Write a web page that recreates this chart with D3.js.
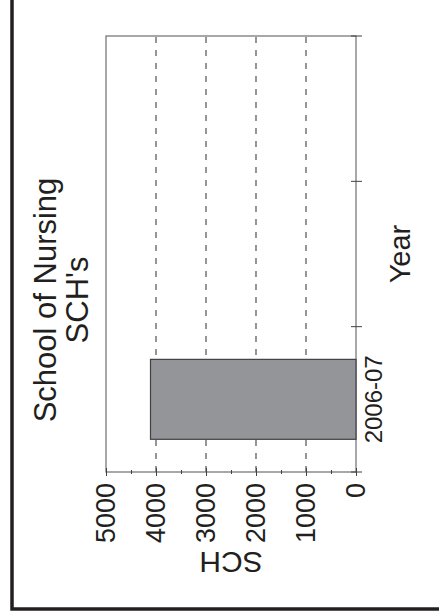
<!DOCTYPE html>
<html lang="en-US">
<head>
    <meta charset="utf-8">
    <script src="https://d3js.org/d3.v7.min.js"></script>
    <style>
        body { margin: 0; background: #fff; }
        text { font-family: "Liberation Sans", Arial, sans-serif; fill: #231f20; }
        .axis path { display: none; }
        .axis line { stroke: #414042; }
        .grid { stroke: #414042; stroke-width: 1.1; stroke-dasharray: 6, 7; }
    </style>
</head>
<body>
<div id="canvas"></div>
</body>
<script>
    // data
    var categories = ["2006-07", "2007-08", "2008-09"];
    var tickLabels = ["2006-07", "", ""];
    var sch = [4110, null, null];
    var yTicks = [0, 1000, 2000, 3000, 4000, 5000];
    var yMinor = [500, 1500, 2500, 3500, 4500];
    var gridValues = [1000, 2000, 3000, 4000];

    var W = 439, H = 616;

    var svg = d3.select("#canvas")
        .append("svg")
        .attr("width", W)
        .attr("height", H);

    // outer frame (only left and bottom edges fall inside the picture)
    svg.append("rect")
        .attr("x", 12).attr("y", -20)
        .attr("width", 480).attr("height", 629)
        .attr("fill", "none")
        .attr("stroke", "#231f20")
        .attr("stroke-width", 3.5);

    // the whole chart is drawn upright and then turned a quarter turn
    var g = svg.append("g")
        .attr("transform", "translate(0," + H + ") rotate(-90)");

    var plot = { left: 144, right: 580, top: 106, bottom: 356 };

    var x = d3.scaleBand()
        .domain(categories)
        .range([plot.left, plot.right])
        .paddingInner(0.45)
        .paddingOuter(0.225);

    var y = d3.scaleLinear()
        .domain([0, 5000])
        .range([plot.bottom, plot.top]);

    // dashed grid
    g.selectAll(".grid")
        .data(gridValues)
        .enter().append("line")
        .attr("class", "grid")
        .attr("x1", plot.left).attr("x2", plot.right)
        .attr("y1", function(d) { return y(d); })
        .attr("y2", function(d) { return y(d); });

    // plot box
    g.append("rect")
        .attr("x", plot.left).attr("y", plot.top)
        .attr("width", plot.right - plot.left)
        .attr("height", plot.bottom - plot.top)
        .attr("fill", "none")
        .attr("stroke", "#6d6e71")
        .attr("stroke-width", 1.2);

    // bars
    var rows = categories.map(function(c, i) { return { cat: c, v: sch[i] }; })
        .filter(function(d) { return d.v != null; });

    g.selectAll(".bar")
        .data(rows)
        .enter().append("rect")
        .attr("class", "bar")
        .attr("x", function(d) { return x(d.cat); })
        .attr("y", function(d) { return y(d.v); })
        .attr("width", x.bandwidth())
        .attr("height", function(d) { return y(0) - y(d.v); })
        .attr("fill", "#939598")
        .attr("stroke", "#414042")
        .attr("stroke-width", 1.2);

    // value axis
    g.append("g")
        .attr("class", "axis")
        .attr("transform", "translate(" + (plot.left + 4) + ",0)")
        .call(d3.axisLeft(y).tickValues(yTicks).tickSize(8).tickPadding(7)
            .tickFormat(d3.format("d")))
        .selectAll("text")
        .style("font-size", "27px");

    g.append("g")
        .attr("class", "axis")
        .attr("transform", "translate(" + (plot.left + 2) + ",0)")
        .call(d3.axisLeft(y).tickValues(yMinor).tickSize(4).tickFormat(""));

    // category axis: labels at band centres, ticks at band edges
    g.append("g")
        .attr("class", "axis")
        .attr("transform", "translate(0," + plot.bottom + ")")
        .call(d3.axisBottom(x).tickSize(0).tickPadding(9)
            .tickFormat(function(d, i) { return tickLabels[i]; }))
        .selectAll("text")
        .style("font-size", "24px");

    var edges = d3.range(categories.length + 1).map(function(i) {
        return plot.left + i * x.step();
    });
    g.selectAll(".edge")
        .data(edges)
        .enter().append("line")
        .attr("class", "edge")
        .attr("x1", function(d) { return d; }).attr("x2", function(d) { return d; })
        .attr("y1", plot.bottom - 5).attr("y2", plot.bottom + 6)
        .attr("stroke", "#414042");

    // titles
    var cx = (plot.left + plot.right) / 2;
    var title = g.append("text")
        .attr("text-anchor", "middle")
        .style("font-size", "31px");
    title.append("tspan").attr("x", 316).attr("y", 56).text("School of Nursing");
    title.append("tspan").attr("x", 316).attr("y", 88).text("SCH's");

    g.append("text")
        .attr("x", cx).attr("y", 410)
        .attr("text-anchor", "middle")
        .style("font-size", "29px")
        .text("Year");

    g.append("text")
        .attr("transform", "translate(64," + ((plot.top + plot.bottom) / 2) + ") rotate(-90)")
        .attr("text-anchor", "middle")
        .style("font-size", "30px")
        .text("SCH");
</script>
</html>
